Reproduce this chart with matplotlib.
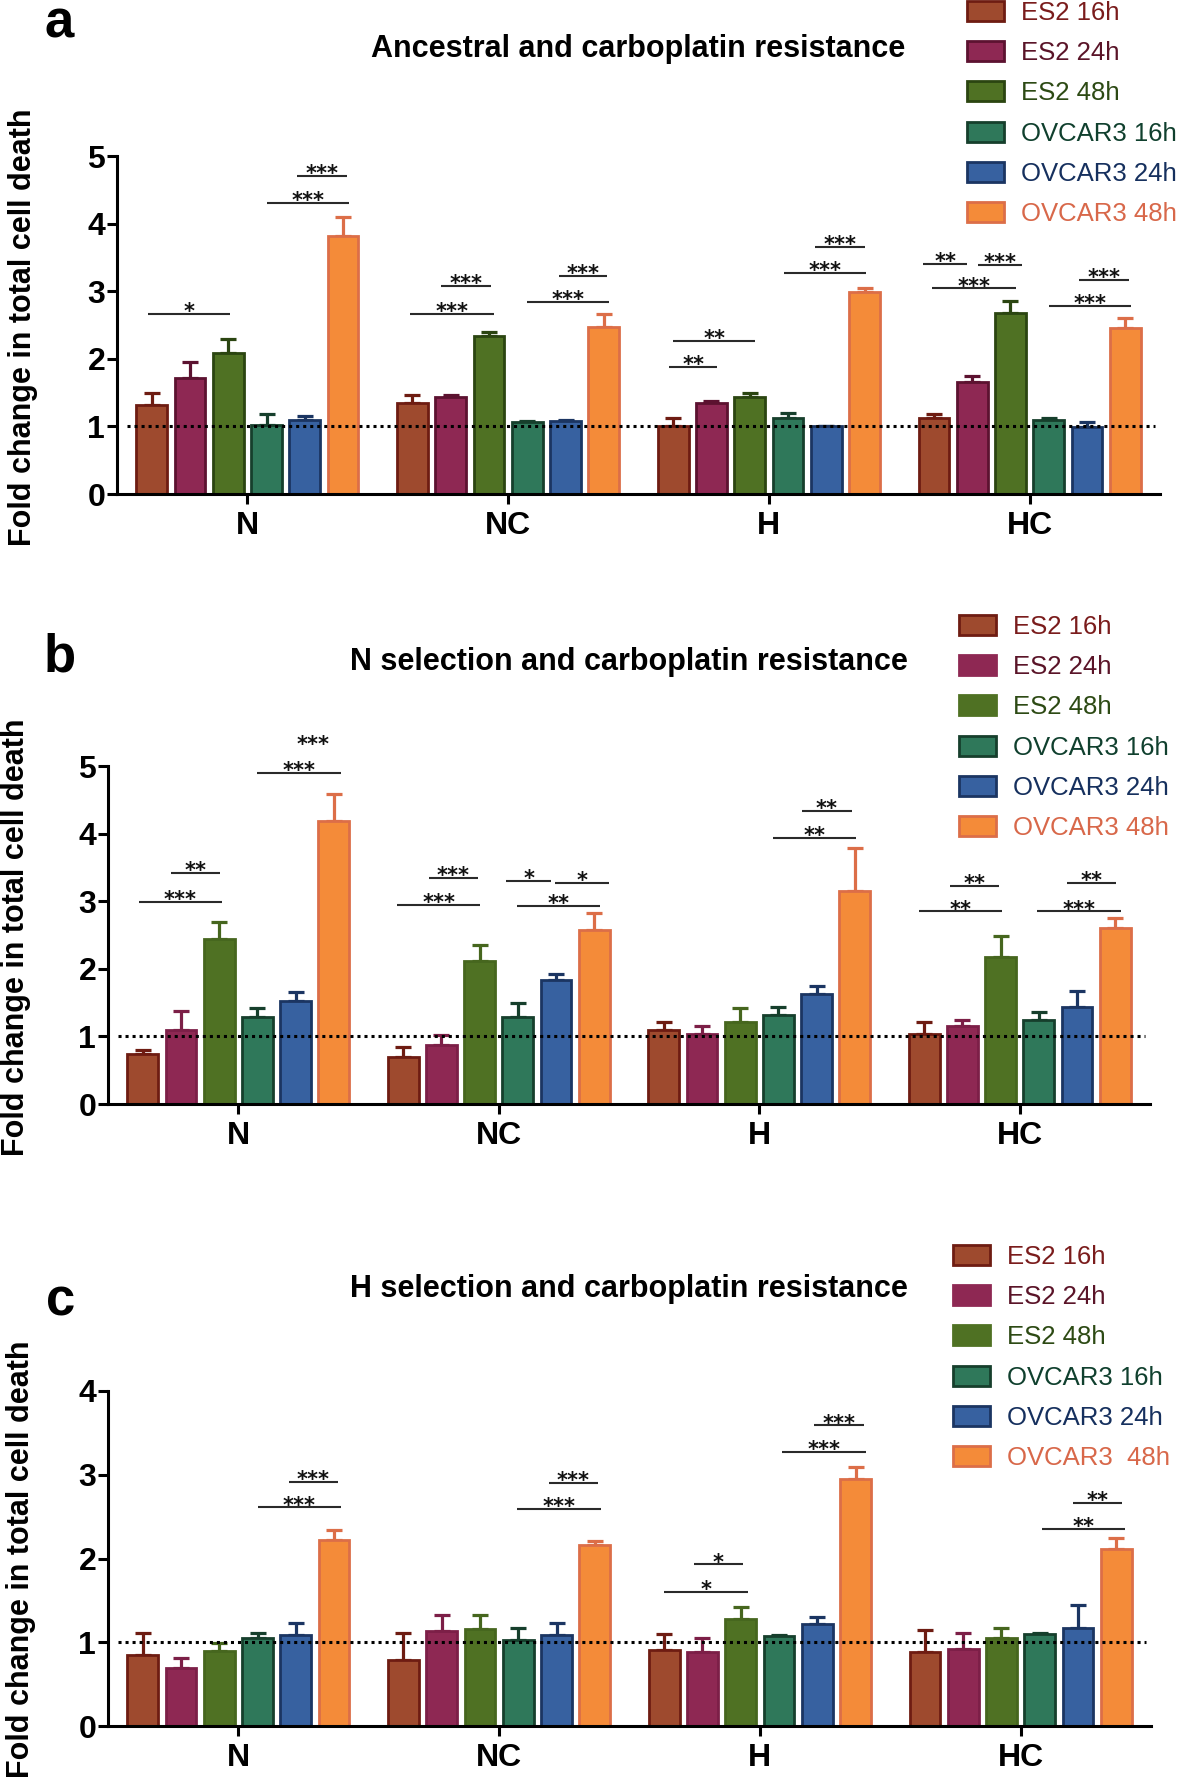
import matplotlib
matplotlib.use('Agg')
import matplotlib.pyplot as plt
import numpy as np
from matplotlib.patches import Patch

plt.rcParams['font.family'] = ['Liberation Sans', 'DejaVu Sans']

W, H = 1181, 1786

groups = ['N', 'NC', 'H', 'HC']
series = ['ES2 16h', 'ES2 24h', 'ES2 48h', 'OVCAR3 16h', 'OVCAR3 24h', 'OVCAR3 48h']
series_c = ['ES2 16h', 'ES2 24h', 'ES2 48h', 'OVCAR3 16h', 'OVCAR3 24h', 'OVCAR3  48h']

fills = ['#9e4a2e', '#8e2853', '#4f7123', '#2f785a', '#3761a0', '#f48b39']
edges = ['#6e1c12', '#5c1230', '#2b4511', '#163f2c', '#1b3562', '#dc6e48']
edges_bc = ['#6e1c12', '#7c1f47', '#46661e', '#163f2c', '#1b3562', '#dc6e48']
text_colors = ['#7a1c1c', '#5a1428', '#2d4a14', '#10402e', '#16305e', '#d8684a']

titles = ['Ancestral and carboplatin resistance',
          'N selection and carboplatin resistance',
          'H selection and carboplatin resistance']
ylabel = 'Fold change in total cell death'

# ---- panel a (rows: series, cols: groups) ----
a_means = [[1.31, 1.35, 1.00, 1.12],
           [1.72, 1.44, 1.34, 1.65],
           [2.08, 2.34, 1.44, 2.68],
           [1.02, 1.06, 1.13, 1.09],
           [1.10, 1.08, 1.00, 0.99],
           [3.81, 2.47, 2.99, 2.45]]
a_errs = [[0.19, 0.11, 0.12, 0.07],
          [0.24, 0.03, 0.04, 0.10],
          [0.21, 0.05, 0.05, 0.18],
          [0.16, 0.02, 0.07, 0.03],
          [0.06, 0.02, 0.01, 0.08],
          [0.29, 0.20, 0.05, 0.16]]
# (group, start bar index, end bar index, height, label)
a_sig = [(0, -0.1, 2.05, 2.66, '*'), (0, 3.0, 5.15, 4.31, '***'), (0, 3.8, 5.1, 4.70, '***'),
         (1, -0.07, 2.12, 2.66, '***'), (1, 0.75, 2.05, 3.08, '***'),
         (1, 3.0, 5.15, 2.84, '***'), (1, 3.83, 5.09, 3.23, '***'),
         (2, -0.1, 1.15, 1.88, '**'), (2, 0.0, 2.15, 2.27, '**'),
         (2, 2.9, 5.05, 3.27, '***'), (2, 3.7, 5.0, 3.66, '***'),
         (3, -0.29, 0.87, 3.40, '**'), (3, 1.14, 2.29, 3.39, '***'), (3, -0.05, 2.15, 3.04, '***'),
         (3, 3.0, 5.15, 2.78, '***'), (3, 3.8, 5.09, 3.17, '***')]

# ---- panel b ----
b_means = [[0.74, 0.69, 1.09, 1.03],
           [1.09, 0.88, 1.04, 1.15],
           [2.44, 2.11, 1.22, 2.18],
           [1.29, 1.29, 1.32, 1.24],
           [1.53, 1.83, 1.63, 1.44],
           [4.18, 2.57, 3.15, 2.61]]
b_errs = [[0.06, 0.15, 0.13, 0.18],
          [0.29, 0.14, 0.11, 0.09],
          [0.25, 0.24, 0.20, 0.30],
          [0.13, 0.21, 0.12, 0.12],
          [0.12, 0.10, 0.11, 0.23],
          [0.41, 0.25, 0.63, 0.14]]
b_sig = [(0, -0.1, 2.08, 2.99, '***'), (0, 0.73, 2.03, 3.42, '**'),
         (0, 3.0, 5.18, 4.90, '***'), (0, 3.83, 5.1, 5.28, '***'),
         (1, -0.15, 2.02, 2.95, '***'), (1, 0.67, 1.95, 3.34, '***'),
         (1, 2.7, 3.86, 3.30, '*'), (1, 3.97, 5.39, 3.27, '*'), (1, 2.99, 5.16, 2.93, '**'),
         (2, 2.87, 5.04, 3.93, '**'), (2, 3.62, 4.92, 4.34, '**'),
         (3, -0.14, 2.03, 2.85, '**'), (3, 0.67, 1.96, 3.23, '**'),
         (3, 2.95, 5.14, 2.85, '***'), (3, 3.73, 5.02, 3.27, '**')]

# ---- panel c ----
c_means = [[0.85, 0.79, 0.91, 0.88],
           [0.69, 1.13, 0.88, 0.92],
           [0.90, 1.16, 1.28, 1.05],
           [1.05, 1.03, 1.07, 1.10],
           [1.09, 1.09, 1.22, 1.17],
           [2.22, 2.16, 2.95, 2.11]]
c_errs = [[0.26, 0.32, 0.19, 0.27],
          [0.12, 0.19, 0.17, 0.19],
          [0.09, 0.16, 0.14, 0.12],
          [0.06, 0.14, 0.02, 0.01],
          [0.14, 0.14, 0.08, 0.28],
          [0.12, 0.05, 0.14, 0.13]]
c_sig = [(0, 3.0, 5.19, 2.61, '***'), (0, 3.83, 5.1, 2.91, '***'),
         (1, 2.98, 5.16, 2.59, '***'), (1, 3.8, 5.09, 2.90, '***'),
         (2, 0.0, 2.18, 1.60, '*'), (2, 0.77, 2.06, 1.93, '*'),
         (2, 3.09, 5.27, 3.27, '***'), (2, 3.92, 5.21, 3.59, '***'),
         (3, 3.05, 5.23, 2.35, '**'), (3, 3.86, 5.16, 2.66, '**')]

SPACING = 0.1467
BAR_W = 0.118


def bar_pos(g, idx):
    return g + (idx - 2.5) * SPACING


fig = plt.figure(figsize=(W / 100, H / 100), dpi=100)


def draw_panel(rect_px, means, errs, sig, ymax, edgecols, labels, title, title_xy,
               letter, letter_xy, ylab_xy, leg_xy, leg_edges):
    l, r, t, b = rect_px
    ax = fig.add_axes([l / W, 1 - b / H, (r - l) / W, (b - t) / H])
    x = np.arange(len(groups))
    for k in range(len(series)):
        pos = bar_pos(x, k)
        ax.errorbar(pos, means[k], yerr=[np.zeros(len(groups)), errs[k]], fmt='none',
                    ecolor=edgecols[k], elinewidth=2.3, capsize=5.5, capthick=2.3, zorder=1.5)
        ax.bar(pos, means[k], BAR_W, color=fills[k], edgecolor=edgecols[k],
               linewidth=2.0, zorder=2)
    ax.axhline(1, xmin=0.01, xmax=0.995, color='black', ls=(0, (1, 1.3)), lw=2.2, zorder=3)
    for g, i0, i1, yv, lab in sig:
        x0, x1 = bar_pos(g, i0), bar_pos(g, i1)
        ax.plot([x0, x1], [yv, yv], color='#2a2a2a', lw=1.5, solid_capstyle='butt', zorder=4)
        ax.annotate(lab, xy=((x0 + x1) / 2, yv), xytext=(0, -3.0), textcoords='offset points',
                    ha='center', va='baseline', fontsize=15, fontweight='bold', color='#111111',
                    family='DejaVu Sans', annotation_clip=False)
    ax.set_xlim(-0.5, 3.5)
    ax.set_ylim(0, ymax)
    ax.set_yticks(range(ymax + 1))
    ax.set_xticks(x)
    ax.set_xticklabels(groups, fontsize=23, fontweight='bold')
    for tl in ax.get_yticklabels():
        tl.set_fontsize(23)
        tl.set_fontweight('bold')
    for s in ['top', 'right']:
        ax.spines[s].set_visible(False)
    for s in ['left', 'bottom']:
        ax.spines[s].set_linewidth(2.2)
    ax.tick_params(axis='y', length=7, width=2.2, pad=1.5)
    ax.tick_params(axis='x', length=7, width=2.2, pad=5)

    fig.text(title_xy[0] / W, 1 - title_xy[1] / H, title, ha='center', va='baseline',
             fontsize=22, fontweight='bold')
    fig.text(letter_xy[0] / W, 1 - letter_xy[1] / H, letter, ha='left', va='baseline',
             fontsize=38, fontweight='bold')
    fig.text(ylab_xy[0] / W, 1 - ylab_xy[1] / H, ylabel, ha='center', va='center',
             rotation=90, fontsize=22, fontweight='bold')

    handles = [Patch(facecolor=fills[k], edgecolor=leg_edges[k], linewidth=2.0)
               for k in range(len(series))]
    leg = fig.legend(handles, labels, loc='upper left',
                     bbox_to_anchor=(leg_xy[0] / W, 1 - leg_xy[1] / H),
                     frameon=False, fontsize=18.5, handlelength=1.44, handleheight=0.82,
                     handletextpad=0.66, labelspacing=0.63, borderpad=0, borderaxespad=0)
    for txt, c in zip(leg.get_texts(), text_colors):
        txt.set_color(c)
    return ax


draw_panel((117, 1160, 156, 494), a_means, a_errs, a_sig, 5, edges, series,
           titles[0], (638, 57), 'a', (44, 37), (23, 327), (967, 1), edges)
draw_panel((108, 1150, 766, 1104), b_means, b_errs, b_sig, 5, edges_bc, series,
           titles[1], (629, 670), 'b', (44, 671), (16, 937), (959, 615),
           [edges[0], fills[1], fills[2], edges[3], edges[4], edges[5]])
draw_panel((108, 1151, 1391, 1726), c_means, c_errs, c_sig, 4, edges_bc, series_c,
           titles[2], (629, 1297), 'c', (46, 1315), (21, 1559), (953, 1245),
           [edges[0], fills[1], fills[2], edges[3], edges[4], edges[5]])

fig.savefig('out.png', dpi=100)
